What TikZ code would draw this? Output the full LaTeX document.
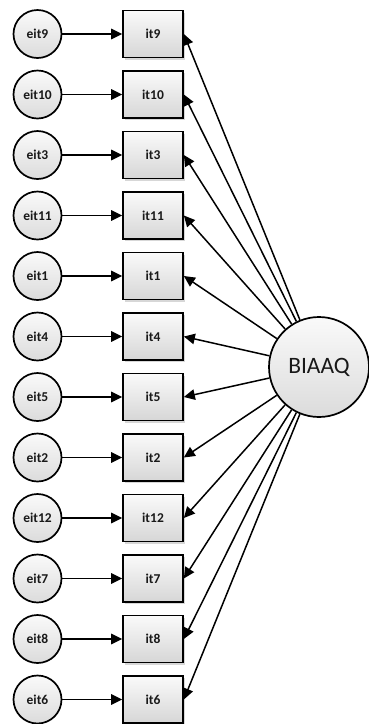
\documentclass[tikz,border=0pt]{standalone}
\usepackage{fontspec}
\setmainfont{Carlito}
\usetikzlibrary{arrows.meta,shadows}
\begin{document}
\begin{tikzpicture}[x=1pt,y=-1pt,
  errc/.style={circle,draw,line width=1.7pt,minimum size=48pt,inner sep=0pt,
    top color=gray!4,bottom color=gray!28,text=black!90,
    font=\bfseries\fontsize{13.5}{15}\selectfont},
  obs/.style={rectangle,draw,line width=1.7pt,minimum width=60pt,minimum height=47pt,inner sep=0pt,
    top color=gray!4,bottom color=gray!32,text=black!90,
    drop shadow={shadow xshift=2pt,shadow yshift=-2pt,fill=gray!45,opacity=0.7},
    font=\bfseries\fontsize{13.5}{15}\selectfont},
  lat/.style={circle,draw,line width=1.7pt,minimum size=100pt,inner sep=0pt,
    top color=gray!4,bottom color=gray!28,text=black!90,
    font=\fontsize{23.5}{26}\selectfont},
  arr/.style={-{Triangle[length=11pt,width=10.5pt]},line width=1.5pt}]
\useasboundingbox (0,0) rectangle (369,724);
\foreach \n [count=\i from 0] in {9,10,3,11,1,4,5,2,12,7,8,6} {
  \node[errc] (e\n) at (37.5,{34+60.5*\i}) {eit\n};
  \node[obs] (it\n) at (153,{34+60.5*\i}) {it\n};
  \draw[arr] (e\n) -- (it\n);
}
\node[lat] (B) at (319,367) {BIAAQ};
\foreach \n in {9,10,3,11,1,4,5,2,12,7,8,6} {
  \draw[arr] (B) -- (it\n.east);
}
\end{tikzpicture}
\end{document}
